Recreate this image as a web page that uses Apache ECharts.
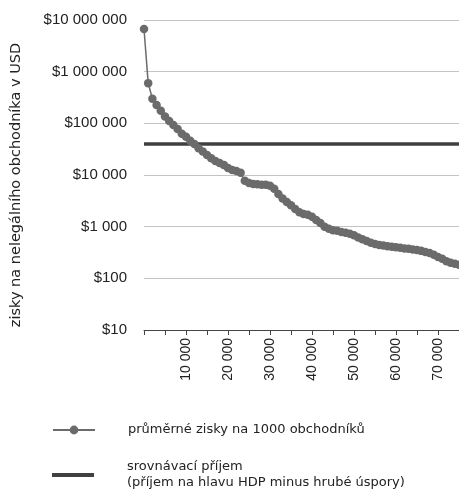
<!DOCTYPE html>
<html>
<head>
<meta charset="utf-8">
<script src="https://cdn.jsdelivr.net/npm/echarts@6/dist/echarts.min.js"></script>
<style>
  html, body { margin: 0; padding: 0; background: #fff; }
  #chart { width: 459px; height: 492px; }
</style>
</head>
<body>
<div id="chart"></div>
<script>
// počet obchodníků (osa x)
const traders = [0, 1000, 2000, 3000, 4000, 5000, 6000, 7000, 8000, 9000,
    10000, 11000, 12000, 13000, 14000, 15000, 16000, 17000, 18000, 19000,
    20000, 21000, 22000, 23000, 24000, 25000, 26000, 27000, 28000, 29000,
    30000, 31000, 32000, 33000, 34000, 35000, 36000, 37000, 38000, 39000,
    40000, 41000, 42000, 43000, 44000, 45000, 46000, 47000, 48000, 49000,
    50000, 51000, 52000, 53000, 54000, 55000, 56000, 57000, 58000, 59000,
    60000, 61000, 62000, 63000, 64000, 65000, 66000, 67000, 68000, 69000,
    70000, 71000, 72000, 73000, 74000, 75000];

// průměrné zisky na 1000 obchodníků (USD)
const earnings = [6700000, 600000, 300000, 227000, 175000, 135000, 111000, 93000, 78000, 63000,
    55000, 46000, 40000, 33000, 28600, 24500, 21000, 18700, 17000, 15700,
    13700, 12500, 12000, 11000, 7700, 7000, 6700, 6600, 6500, 6500,
    6200, 5400, 4300, 3500, 3000, 2600, 2200, 1900, 1750, 1700,
    1550, 1350, 1180, 1000, 910, 850, 830, 790, 760, 730,
    680, 620, 570, 530, 490, 460, 440, 430, 420, 410,
    400, 390, 380, 372, 363, 355, 340, 325, 310, 285,
    260, 240, 215, 200, 192, 183];

// srovnávací příjem
const refIncome = 40000;
const refRange = [0, 75000];

const seriesNames = ['průměrné zisky na 1000 obchodníků',
    'srovnávací příjem\n(příjem na hlavu HDP minus hrubé úspory)'];

const chart = echarts.init(document.getElementById('chart'));

function spaced(v) {
    return String(v).replace(/\B(?=(\d{3})+(?!\d))/g, ' ');
}

const legendText = { fontFamily: 'DejaVu Sans', fontSize: 13, color: '#222', lineHeight: 16, padding: [0, 0, 0, 28] };

const option = {
    animation: false,
    grid: { left: 144, right: 0, top: 20, bottom: 162 },
    legend: [{
        data: [seriesNames[0]],
        left: 52, top: 422, padding: 0,
        itemWidth: 42, itemHeight: 11,
        textStyle: legendText
    }, {
        data: [{ name: seriesNames[1], icon: 'rect' }],
        left: 52, top: 459, padding: 0,
        itemWidth: 42, itemHeight: 4,
        textStyle: legendText
    }],
    xAxis: {
        type: 'value',
        min: 0, max: 75000, interval: 5000,
        splitLine: { show: false },
        axisLine: { lineStyle: { color: '#444', width: 1 } },
        axisTick: { length: 5, lineStyle: { color: '#444' } },
        axisLabel: {
            rotate: 90, margin: 8,
            fontFamily: 'Liberation Sans', fontSize: 14, color: '#222',
            formatter: v => (v > 0 && v % 10000 === 0 && v < 75000) ? spaced(v) : ''
        }
    },
    yAxis: {
        type: 'log', logBase: 10,
        min: 10, max: 10000000,
        name: 'zisky na nelegálního obchodníka v USD',
        nameLocation: 'middle', nameGap: 120,
        nameTextStyle: { fontFamily: 'DejaVu Sans', fontSize: 14.5, color: '#222', padding: [0, 20, 0, 0] },
        axisLine: { show: false },
        axisTick: { show: false },
        splitLine: { lineStyle: { color: '#c4c4c4', width: 1 } },
        axisLabel: {
            margin: 17,
            fontFamily: 'Liberation Sans', fontSize: 15, color: '#222',
            formatter: v => '$' + spaced(v)
        }
    },
    series: [{
        name: seriesNames[0],
        type: 'line',
        data: traders.map((t, i) => [t, earnings[i]]),
        symbol: 'circle', symbolSize: 8.5,
        itemStyle: { color: '#6b6b6b' },
        lineStyle: { color: '#6b6b6b', width: 1.5 },
        z: 3
    }, {
        name: seriesNames[1],
        type: 'line',
        data: refRange.map(t => [t, refIncome]),
        showSymbol: false, symbol: 'none',
        itemStyle: { color: '#404040' },
        lineStyle: { color: '#404040', width: 3.5 },
        z: 2
    }]
};

chart.setOption(option);
</script>
</body>
</html>
